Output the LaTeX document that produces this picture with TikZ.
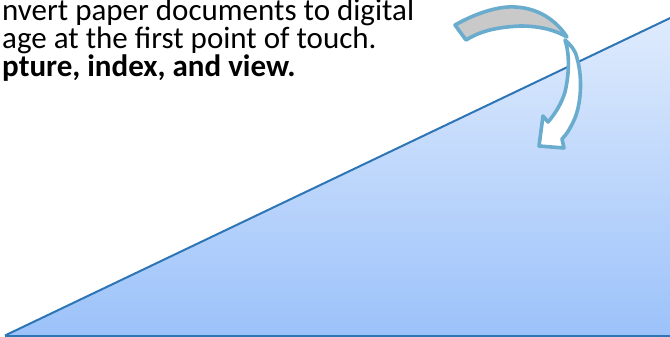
\documentclass[tikz,border=0pt]{standalone}
\usepackage{fontspec}
\setmainfont{Carlito}
\definecolor{triline}{HTML}{2E75B6}
\definecolor{tritop}{HTML}{E2EDFD}
\definecolor{tribot}{HTML}{9CC2FA}
\definecolor{arrline}{HTML}{6AACCE}
\definecolor{arrgray}{HTML}{C9C9C9}
\tikzset{
  txt/.style={anchor=base west, inner sep=0pt, text height=15pt, text depth=5pt, font=\fontsize{31}{30}\selectfont},
  ribbon/.style={draw=arrline, line width=3.6pt, line join=round},
  edge/.style={draw=triline, line width=2pt}
}
\begin{document}
\begin{tikzpicture}[x=1pt,y=-1pt]
\useasboundingbox (0,0) rectangle (670,337);
\clip (0,0) rectangle (670,337);
% triangle
\coordinate (L) at (5,335.5);
\coordinate (R) at (700,3.8);
\coordinate (B) at (700,335.5);
\shade[top color=tritop, bottom color=tribot] (L) -- (R) -- (B) -- cycle;
\draw[edge] (L) -- (R);
\draw[edge] (L) -- (B);
% text
\node[txt] (t1) at (2,20.5) {nvert paper documents to digital};
\node[txt] (t2) at (2,49) {age at the first point of touch.};
\node[txt,font=\fontsize{31}{30}\selectfont\bfseries] (t3) at (2,77) {pture, index, and view.};
% arrow: gray back part
\path[ribbon, fill=arrgray] (455,25) .. controls (478,12) and (500,6) .. (515,7)
  .. controls (538,8) and (556,20) .. (567,37)
  .. controls (555,30) and (540,26) .. (520,26)
  .. controls (500,27) and (482,30) .. (466,40) -- cycle;
% arrow: white front part
\path[ribbon, fill=white] (565,40) .. controls (572,46) and (576,52) .. (577,58)
  .. controls (582,75) and (582,100) .. (575,118)
  .. controls (571,127) and (567,134) .. (562,139)
  -- (564,148) -- (539,146) -- (543,116) -- (548,122)
  .. controls (556,113) and (562,102) .. (565,92)
  .. controls (569,75) and (570,55) .. (565,40) -- cycle;
\end{tikzpicture}
\end{document}
